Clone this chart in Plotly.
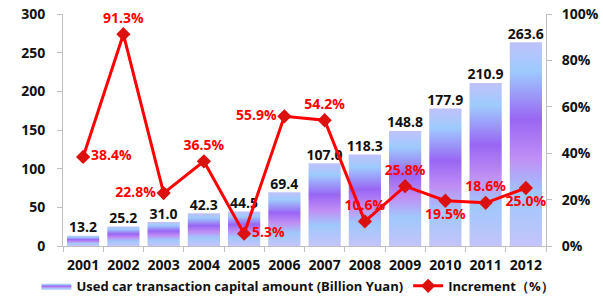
import plotly.graph_objects as go

years = ["2001", "2002", "2003", "2004", "2005", "2006", "2007", "2008", "2009", "2010", "2011", "2012"]
amount = [13.2, 25.2, 31.0, 42.3, 44.5, 69.4, 107.0, 118.3, 148.8, 177.9, 210.9, 263.6]
increment = [38.4, 91.3, 22.8, 36.5, 5.3, 55.9, 54.2, 10.6, 25.8, 19.5, 18.6, 25.0]
inc_pos = ["middle right", "top center", "middle left", "top center", "middle right", "middle left",
           "top center", "top center", "top center", "bottom center", "top center", "bottom center"]

FONT = "Open Sans"
bar_scale = [[0.0, "#c4c4fa"], [0.25, "#9fc8fb"], [0.43, "#c08ef4"], [0.62, "#9966f4"],
             [0.86, "#9ecbfd"], [1.0, "#c0c2fb"]]
half = 0.4

fig = go.Figure()
for i, v in enumerate(amount):
    fig.add_trace(go.Scatter(
        x=[i - half, i + half, i + half, i - half, i - half],
        y=[0, 0, v, v, 0],
        mode="lines", fill="toself", line=dict(width=0),
        fillcolor="#a98cf4",
        fillgradient=dict(type="vertical", colorscale=bar_scale),
        name="Used car transaction capital amount (Billion Yuan)",
        legendgroup="bars", showlegend=(i == 0), hoverinfo="skip",
    ))

fig.add_trace(go.Scatter(
    x=list(range(len(years))), y=amount, mode="text",
    text=[f"{v:.1f}" for v in amount], textposition="top center",
    textfont=dict(family=FONT, size=14, color="#111111", weight="bold"),
    showlegend=False, hoverinfo="skip", cliponaxis=False,
))

fig.add_trace(go.Scatter(
    x=list(range(len(years))), y=increment, yaxis="y2",
    mode="lines+markers+text",
    line=dict(color="#ff0000", width=3),
    marker=dict(symbol="diamond", size=11, color="#dd1010"),
    text=[f"{v:.1f}%" for v in increment], textposition=inc_pos,
    textfont=dict(family=FONT, size=14, color="#ff0000", weight="bold"),
    name="Increment（%）", cliponaxis=False,
))

axis_common = dict(showline=True, linecolor="#bfbfbf", linewidth=1, ticks="outside",
                   tickcolor="#bfbfbf", ticklen=5, showgrid=False, zeroline=False,
                   tickfont=dict(family=FONT, size=14, color="#111111", weight="bold"))

fig.update_layout(
    width=603, height=303,
    margin=dict(l=63, r=57, t=14, b=57, autoexpand=False),
    plot_bgcolor="white", paper_bgcolor="white",
    xaxis=dict(range=[-0.5, 11.5], tickvals=list(range(len(years))), ticktext=years,
               showline=True, linecolor="#bfbfbf", ticks="", showgrid=False, zeroline=False,
               ticklabelstandoff=6,
               tickfont=dict(family=FONT, size=14, color="#111111", weight="bold"),
               minor=dict(tickvals=[k - 0.5 for k in range(len(years) + 1)], ticks="outside",
                          ticklen=5, tickcolor="#bfbfbf")),
    yaxis=dict(range=[0, 300], dtick=50, ticklabelstandoff=9, **axis_common),
    yaxis2=dict(range=[0, 100], dtick=20, ticksuffix="%", overlaying="y", side="right",
                ticklabelstandoff=7, **axis_common),
    legend=dict(orientation="h", x=-0.055, xanchor="left", y=-0.172, yanchor="middle",
                font=dict(family=FONT, size=13, color="#111111", weight="bold"),
                itemwidth=30, tracegroupgap=0, bgcolor="rgba(0,0,0,0)"),
    showlegend=True,
)

fig.write_html("out.html", config={"displayModeBar": False},
               post_script="document.body.style.margin='0';")
